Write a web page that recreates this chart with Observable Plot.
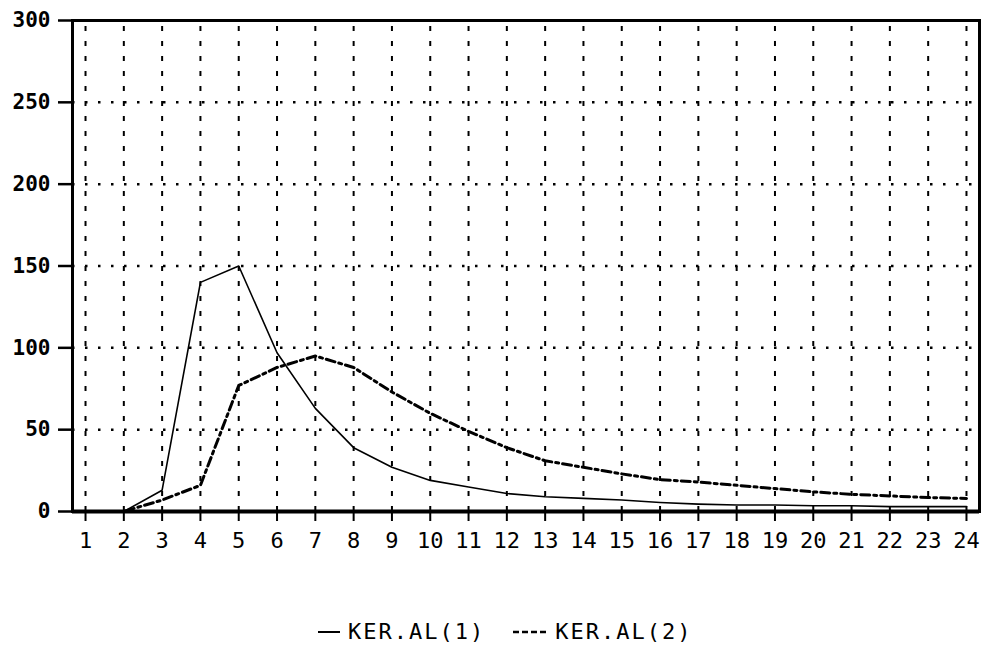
<!DOCTYPE html>
<html>
<head>
<meta charset="utf-8">
<script src="https://cdn.jsdelivr.net/npm/d3@7"></script>
<script src="https://cdn.jsdelivr.net/npm/@observablehq/plot@0.6"></script>
<style>
  html, body { margin: 0; padding: 0; background: #fff; }
  #wrap { position: relative; width: 985px; height: 656px; overflow: hidden; }
  #chart svg { display: block; }
  #legend {
    position: absolute; left: 318px; top: 619px;
    display: flex; align-items: center;
    font-family: "DejaVu Sans Mono", monospace; font-size: 22px; letter-spacing: 2px; color: #000;
  }
  #legend .item { display: flex; align-items: center; }
  #legend svg { display: block; }
</style>
</head>
<body>
<div id="wrap">
  <div id="chart"></div>
  <div id="legend"></div>
</div>
<script>
// Periods along the horizontal axis
const days = [1, 2, 3, 4, 5, 6, 7, 8, 9, 10, 11, 12, 13, 14, 15, 16, 17, 18, 19, 20, 21, 22, 23, 24];

// Series values
const kerAl1 = [0, 0, 13, 140, 150, 97, 63, 39, 27, 19, 15, 11, 9, 8, 7, 5.5, 4.5, 4, 4, 3.5, 3.5, 3, 3, 3];
const kerAl2 = [0, 0, 7, 16, 77, 88, 95, 88, 73, 60, 49, 39, 31, 27, 23, 19.5, 18, 16, 14, 12, 10.5, 9.5, 8.5, 8];

// Series names
const seriesNames = ["KER.AL(1)", "KER.AL(2)"];

// Axis ticks
const yTicks = [0, 50, 100, 150, 200, 250, 300];
const yGrid = [50, 100, 150, 200, 250];

const rows1 = days.map((d, i) => ({day: d, value: kerAl1[i]}));
const rows2 = days.map((d, i) => ({day: d, value: kerAl2[i]}));

const font = "DejaVu Sans Mono";
const dash2 = "9,4,3,4";

const chart = Plot.plot({
  width: 985,
  height: 556,
  marginLeft: 72,
  marginRight: 6,
  marginTop: 20,
  marginBottom: 45,
  style: {fontFamily: font, fontSize: "21px", color: "#000", background: "#fff"},
  x: {domain: [0.66, 24.34], label: null},
  y: {domain: [0, 300], label: null},
  marks: [
    // vertical dashed grid at every period
    Plot.ruleX(days, {y1: 0, y2: 300, stroke: "#000", strokeWidth: 2, strokeDasharray: "5,10"}),
    // horizontal dotted grid
    Plot.ruleY(yGrid, {stroke: "#000", strokeWidth: 2.5, strokeDasharray: "2.5,10.5"}),
    // plot border
    Plot.frame({stroke: "#000", strokeWidth: 3}),
    Plot.ruleY([0], {stroke: "#000", strokeWidth: 4}),
    // series
    Plot.line(rows1, {x: "day", y: "value", stroke: "#000", strokeWidth: 1.6}),
    Plot.line(rows2, {x: "day", y: "value", stroke: "#000", strokeWidth: 3, strokeDasharray: dash2}),
    // axes
    Plot.axisY(yTicks, {tickSize: 14, tickPadding: 8, strokeWidth: 2.5, fontSize: 21, fontWeight: "bold", tickFormat: d => String(d)}),
    Plot.axisX(days, {tickSize: 10, tickPadding: 11, strokeWidth: 2, fontSize: 22, tickFormat: d => String(d)})
  ]
});
document.getElementById("chart").appendChild(chart);

// Legend below the plot
const legend = document.getElementById("legend");
const styles = [{dash: null, width: 2, w: 22, gap: 0}, {dash: "6,3", width: 2.5, w: 34, gap: 28}];
seriesNames.forEach((name, i) => {
  const s = styles[i];
  const item = document.createElement("div");
  item.className = "item";
  item.style.marginLeft = s.gap + "px";
  const sw = d3.create("svg").attr("width", s.w).attr("height", 10);
  sw.append("line")
    .attr("x1", 0).attr("x2", s.w).attr("y1", 5).attr("y2", 5)
    .attr("stroke", "#000").attr("stroke-width", s.width)
    .attr("stroke-dasharray", s.dash);
  item.appendChild(sw.node());
  const t = document.createElement("span");
  t.textContent = name;
  t.style.marginLeft = "8px";
  item.appendChild(t);
  legend.appendChild(item);
});
</script>
</body>
</html>
